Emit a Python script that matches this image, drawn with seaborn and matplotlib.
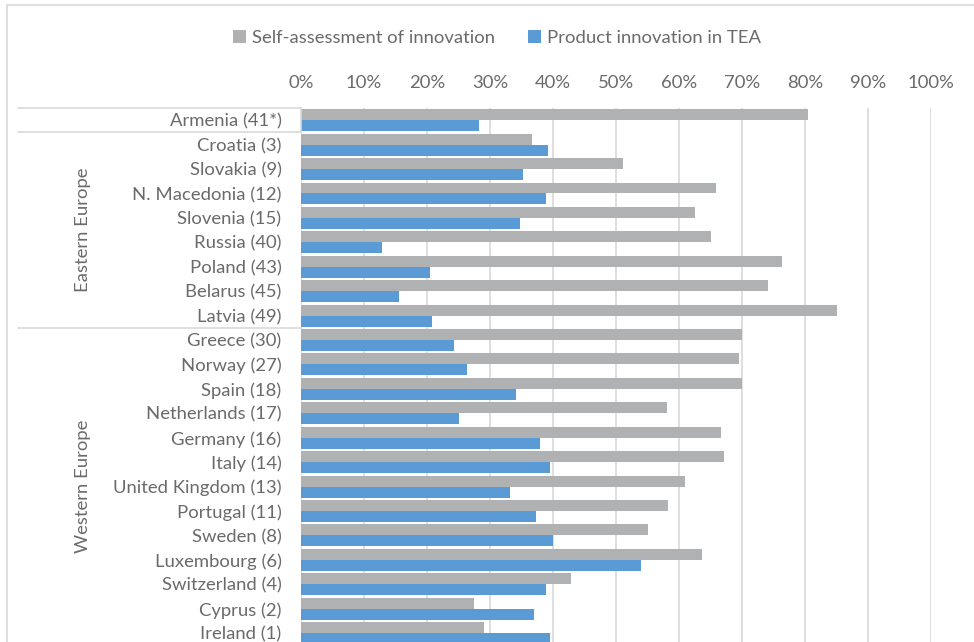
import matplotlib
matplotlib.use("Agg")
import matplotlib.pyplot as plt
import matplotlib.transforms as mtransforms
from matplotlib.lines import Line2D
import pandas as pd
import seaborn as sns

# Countries (rank in parentheses), top to bottom
countries = [
    "Armenia (41*)",
    "Croatia (3)", "Slovakia (9)", "N. Macedonia (12)", "Slovenia (15)",
    "Russia (40)", "Poland (43)", "Belarus (45)", "Latvia (49)",
    "Greece (30)", "Norway (27)", "Spain (18)", "Netherlands (17)",
    "Germany (16)", "Italy (14)", "United Kingdom (13)", "Portugal (11)",
    "Sweden (8)", "Luxembourg (6)", "Switzerland (4)", "Cyprus (2)",
    "Ireland (1)",
]
regions = ["Eastern Europe", "Western Europe"]
region_sizes = [8, 13]  # rows after Armenia that belong to each region

# Shares (%) for each series
self_assessment = [
    80.5,
    36.7, 51.1, 65.8, 62.6, 65.1, 76.4, 74.1, 85.1,
    70.0, 69.5, 70.0, 58.1, 66.6, 67.2, 60.9, 58.2, 55.1, 63.6, 42.8, 27.5,
    29.0,
]
product_innovation = [
    28.2,
    39.2, 35.3, 38.9, 34.7, 12.9, 20.5, 15.6, 20.8,
    24.3, 26.4, 34.2, 25.1, 38.0, 39.5, 33.2, 37.3, 40.0, 54.0, 38.9, 37.0,
    39.5,
]
series_names = ["Self-assessment of innovation", "Product innovation in TEA"]
x_ticks = [0, 10, 20, 30, 40, 50, 60, 70, 80, 90, 100]

df = pd.DataFrame({
    "country": countries * 2,
    "value": self_assessment + product_innovation,
    "series": [series_names[0]] * len(countries) + [series_names[1]] * len(countries),
})

W, H = 974, 642
TEXT = "#6a6a6a"
GRID = "#d9d9d9"
FS = 13.3

sns.set_theme(style="white")
plt.rcParams["font.family"] = ["Lato", "DejaVu Sans"]
plt.rcParams["text.color"] = TEXT

fig = plt.figure(figsize=(W / 100, H / 100), dpi=100)
ax_left, ax_right, ax_top, ax_bottom = 301, 931, 108, 645.4
ax = fig.add_axes([ax_left / W, 1 - ax_bottom / H,
                   (ax_right - ax_left) / W, (ax_bottom - ax_top) / H])

sns.barplot(data=df, y="country", x="value", hue="series", orient="h",
            order=countries, hue_order=series_names,
            palette=["#b0b1b3", "#5b9bd5"], width=0.9, linewidth=0,
            saturation=1, ax=ax)

ax.set_ylim(len(countries) - 0.5, -0.5)
ax.set_xlim(0, 100)
ax.set_xticks(x_ticks)
ax.set_xticklabels([f"{t}%" for t in x_ticks])
ax.xaxis.tick_top()
ax.tick_params(axis="x", length=0, pad=12, labelsize=FS, labelcolor=TEXT)
ax.tick_params(axis="y", length=0, pad=14, labelsize=FS, labelcolor=TEXT)
ax.set_xlabel("")
ax.set_ylabel("")
ax.grid(axis="x", color=GRID, linewidth=1.2)
ax.set_axisbelow(True)
for s in ax.spines.values():
    s.set_visible(False)

# Multi-level category axis: separators and region labels
trans = mtransforms.blended_transform_factory(fig.transFigure, ax.transData)
x0, x1 = 18 / W, ax_left / W
for yb in [-0.5, 0.5, 0.5 + region_sizes[0]]:
    ax.add_line(Line2D([x0, x1], [yb, yb], transform=trans, color=GRID,
                       linewidth=1.2, clip_on=False))
ax.plot([0, 0], [-0.5, 0.5], color=GRID, linewidth=1.2, clip_on=False)

start = 1
for name, n in zip(regions, region_sizes):
    yc = start + (n - 1) / 2
    ax.text(83 / W, yc, name, transform=trans, rotation=90, ha="center",
            va="center", fontsize=FS, color=TEXT)
    start += n

# Chart area border (left and top edges)
fig.add_artist(Line2D([7 / W, 7 / W], [0, 1 - 5 / H], color=GRID, linewidth=1.2))
fig.add_artist(Line2D([7 / W, 1], [1 - 5 / H, 1 - 5 / H], color=GRID, linewidth=1.2))

sns.move_legend(ax, "center", bbox_to_anchor=(497 / W, 1 - 38 / H),
                bbox_transform=fig.transFigure, ncol=2, frameon=False,
                title=None, fontsize=FS, handlelength=0.7, handleheight=0.7,
                handletextpad=0.3, columnspacing=1.8)
for t in ax.get_legend().get_texts():
    t.set_color(TEXT)

fig.savefig("out.png", dpi=100)
